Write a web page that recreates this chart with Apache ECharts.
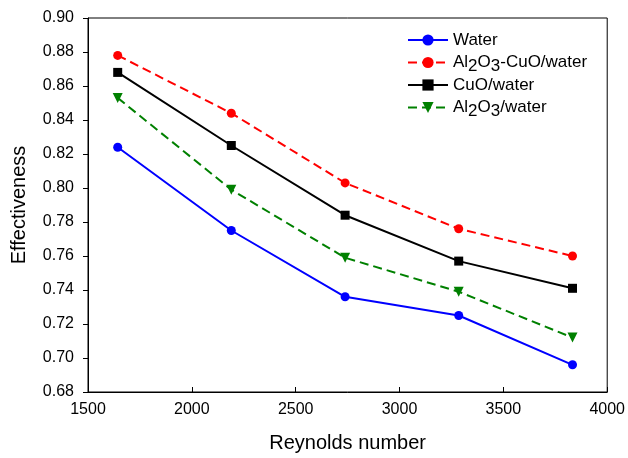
<!DOCTYPE html>
<html>
<head>
<meta charset="utf-8">
<script src="https://cdn.jsdelivr.net/npm/echarts@6/dist/echarts.min.js"></script>
<style>html,body{margin:0;padding:0;background:#fff}#c{width:628px;height:458px}</style>
</head>
<body>
<div id="c"></div>
<script>
const reynolds = [1643, 2190, 2738, 3285, 3833];
const water = [0.824, 0.775, 0.736, 0.725, 0.696];
const hybrid = [0.878, 0.844, 0.803, 0.776, 0.760];
const cuo = [0.868, 0.825, 0.784, 0.757, 0.741];
const al2o3 = [0.853, 0.799, 0.759, 0.739, 0.712];
const seriesNames = ['Water', 'Al2O3-CuO/water', 'CuO/water', 'Al2O3/water'];

function pairs(xs, ys) { return xs.map((x, i) => [x, ys[i]]); }
const font = 'Liberation Sans, Arial, sans-serif';

const chart = echarts.init(document.getElementById('c'), null, {renderer: 'canvas'});
function mk(name, data, color, symbol, size, dashed, rot) {
  return {
    name: name, type: 'line', data: pairs(reynolds, data),
    symbol: symbol, symbolSize: size, showSymbol: true, symbolRotate: rot || 0,
    itemStyle: {color: color},
    lineStyle: {color: color, width: 2, type: dashed ? [9, 5] : 'solid'},
    animation: false
  };
}
chart.setOption({
  animation: false,
  grid: {left: 88, right: 20, top: 18, bottom: 65, show: true, borderColor: '#000', borderWidth: 1},
  xAxis: {
    type: 'value', min: 1500, max: 4000, interval: 500,
    name: 'Reynolds number', nameLocation: 'middle', nameGap: 41,
    nameTextStyle: {fontFamily: font, fontSize: 20, color: '#000'},
    axisLine: {show: true, lineStyle: {color: '#000', width: 1}},
    axisTick: {show: true, inside: true, length: 5, lineStyle: {color: '#000'}},
    axisLabel: {fontFamily: font, fontSize: 16, color: '#000', margin: 10, formatter: v => String(v)},
    splitLine: {show: false}
  },
  yAxis: {
    type: 'value', min: 0.68, max: 0.90, interval: 0.02,
    name: 'Effectiveness', nameLocation: 'middle', nameGap: 59,
    nameTextStyle: {fontFamily: font, fontSize: 20, color: '#000'},
    axisLine: {show: true, lineStyle: {color: '#000', width: 1}},
    axisTick: {show: true, inside: false, length: 5, lineStyle: {color: '#000'}},
    axisLabel: {fontFamily: font, fontSize: 16, color: '#000', margin: 14, formatter: v => v.toFixed(2)},
    splitLine: {show: false}
  },
  legend: {
    orient: 'vertical', left: 402, top: 26, itemWidth: 40, itemHeight: 14, itemGap: 1,
    data: seriesNames,
    formatter: function (n) {
      return '{a|' + n.replace(/Al2O3/, 'Al}{s|2}{a|O}{s|3}{a|') + '}';
    },
    textStyle: {
      fontFamily: font, fontSize: 17, color: '#000', lineHeight: 18,
      rich: {
        a: {fontFamily: font, fontSize: 17, color: '#000', lineHeight: 18},
        s: {fontFamily: font, fontSize: 17, color: '#000', lineHeight: 8, padding: [8, 0, 0, 0]}
      }
    }
  },
  series: [
    mk(seriesNames[0], water, '#0000ff', 'circle', 9, false),
    mk(seriesNames[1], hybrid, '#ff0000', 'circle', 9, true),
    mk(seriesNames[2], cuo, '#000000', 'rect', 9, false),
    mk(seriesNames[3], al2o3, '#008000', 'triangle', 10, true, 180)
  ]
});
</script>
</body>
</html>
